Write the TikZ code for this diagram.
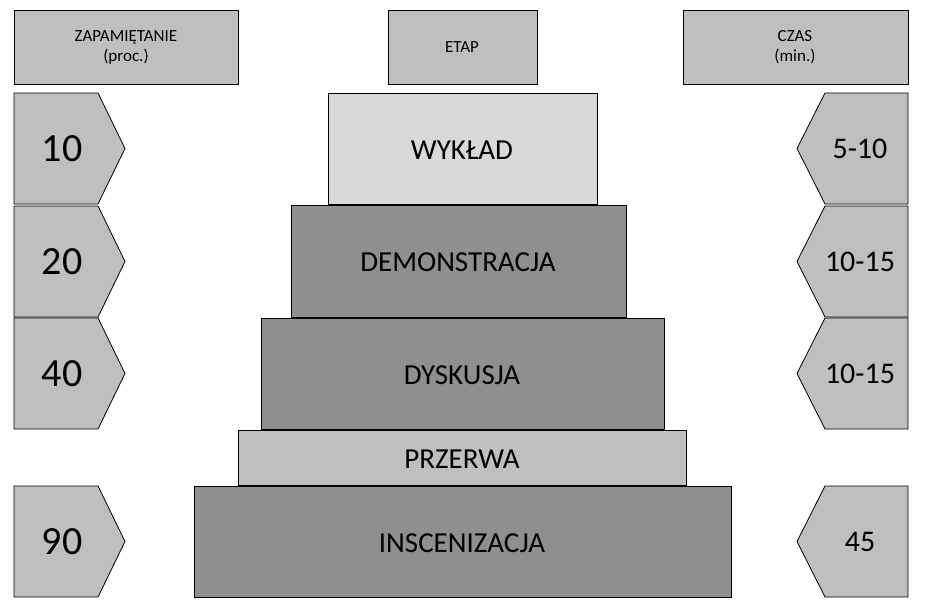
\documentclass[tikz,border=0pt]{standalone}
\usepackage{fontspec}
\setmainfont{Carlito}
\definecolor{lg}{HTML}{BFBFBF}
\definecolor{vl}{HTML}{D9D9D9}
\definecolor{dg}{HTML}{8F8F8F}
\begin{document}
\begin{tikzpicture}[x=1pt,y=-1pt,
 bx/.style={draw=black,line width=0.8pt},
 hd/.style={font=\fontsize{17}{20}\selectfont,align=center},
 big/.style={font=\fontsize{40}{44}\selectfont},
 mid/.style={font=\fontsize{29}{32}\selectfont},
 rt/.style={font=\fontsize{30}{32}\selectfont}]
\useasboundingbox (0,0) rectangle (927,605);
\fill[white] (0,0) rectangle (927,605);
% headers
\draw[bx,fill=lg] (14,10) rectangle (238,84);
\node[hd] (h1) at (126,47) {ZAPAMIĘTANIE\\(proc.)};
\draw[bx,fill=lg] (388,10) rectangle (537,84);
\node[hd] (h2) at (462,47) {ETAP};
\draw[bx,fill=lg] (683,10) rectangle (908,84);
\node[hd] (h3) at (795,47) {CZAS\\(min.)};
% left pentagons
\foreach \t/\b/\lab in {93/204/10,206/317/20,318/429/40,486/597/90}{
  \draw[bx,fill=lg] (14,\t) -- (98,\t) -- (125,{(\t+\b)/2}) -- (98,\b) -- (14,\b) -- cycle;
  \node[big] at (62,{(\t+\b)/2}) {\lab};
}
% right pentagons
\foreach \t/\b/\lab in {93/204/5-10,206/317/10-15,318/429/10-15,486/597/45}{
  \draw[bx,fill=lg] (908,\t) -- (825,\t) -- (797,{(\t+\b)/2}) -- (825,\b) -- (908,\b) -- cycle;
  \node[rt] at (860,{(\t+\b)/2}) {\lab};
}
% pyramid
\draw[bx,fill=vl] (328,93) rectangle (597,204);
\node[mid] (s1) at (462,150) {WYKŁAD};
\draw[bx,fill=dg] (291,205) rectangle (626,317);
\node[mid] (s2) at (458,262) {DEMONSTRACJA};
\draw[bx,fill=dg] (261,318) rectangle (664,429);
\node[mid] (s3) at (462,375) {DYSKUSJA};
\draw[bx,fill=lg] (238,430) rectangle (686,485);
\node[mid] (s4) at (462,459) {PRZERWA};
\draw[bx,fill=dg] (194,486) rectangle (731,597);
\node[mid] (s5) at (462,543) {INSCENIZACJA};
\end{tikzpicture}
\end{document}
